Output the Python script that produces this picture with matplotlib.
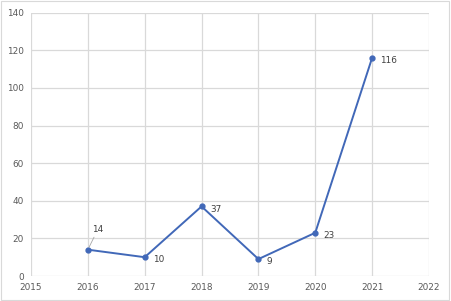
import matplotlib.pyplot as plt

years = [2016, 2017, 2018, 2019, 2020, 2021]
counts = [14, 10, 37, 9, 23, 116]
xticks = [2015, 2016, 2017, 2018, 2019, 2020, 2021, 2022]
yticks = [0, 20, 40, 60, 80, 100, 120, 140]

fig = plt.figure(figsize=(4.51, 3.01), dpi=100)
ax = fig.add_axes([0.0687, 0.083, 0.8825, 0.875])

ax.plot(years, counts, color='#4168B8', lw=1.4, marker='o', ms=3.5, zorder=3)

ax.set_xlim(2015, 2022)
ax.set_ylim(0, 140)
ax.set_xticks(xticks)
ax.set_yticks(yticks)
ax.grid(True, color='#d9d9d9', lw=0.9)
for s in ax.spines.values():
    s.set_visible(False)
ax.tick_params(length=0, labelsize=6.4, labelcolor='#595959', pad=5)

# data labels
for x, v in zip(years, counts):
    if x == 2016:
        ax.annotate(str(v), (x, v), xytext=(3, 11), textcoords='offset points',
                    fontsize=6.4, color='#404040', va='bottom', ha='left',
                    arrowprops=dict(arrowstyle='-', color='#a6a6a6', lw=0.6,
                                    shrinkA=0, shrinkB=2))
    else:
        ax.annotate(str(v), (x, v), xytext=(6, -2), textcoords='offset points',
                    fontsize=6.4, color='#404040', va='center', ha='left')

# outer frame
fig.patches.append(plt.Rectangle((0.002, 0.003), 0.994, 0.994, transform=fig.transFigure,
                                 fill=False, ec='#d9d9d9', lw=0.8))

fig.savefig('out.png', dpi=100)
